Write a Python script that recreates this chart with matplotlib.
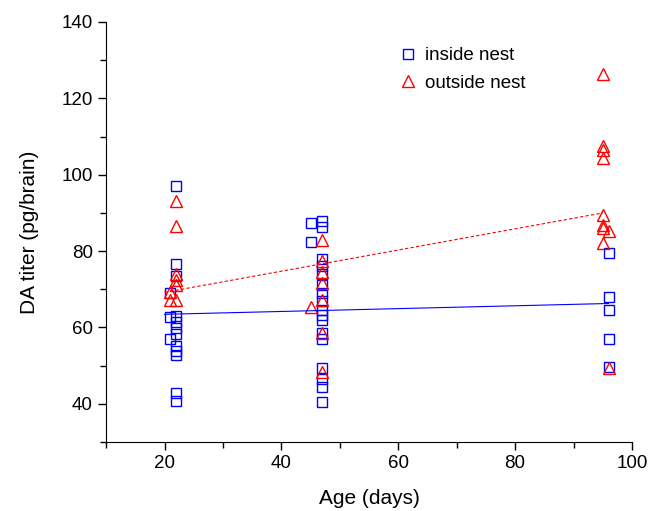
import numpy as np
import matplotlib.pyplot as plt

plt.rcParams['font.family'] = ['Liberation Sans', 'DejaVu Sans']

# inside nest (squares)
in_age = [22, 22, 22, 22, 22, 22, 22, 22, 22, 22, 22, 22, 21, 21, 21,
          45, 45,
          47, 47, 47, 47, 47, 47, 47, 47, 47, 47, 47, 47, 47, 47, 47, 47, 47,
          96, 96, 96, 96, 96]
in_da = [97.1, 76.6, 73.5, 63.0, 61.5, 59.9, 58.3, 55.2, 53.9, 52.8, 42.9, 40.8, 69.1, 62.8, 57.0,
         87.4, 82.4,
         87.9, 86.4, 78.0, 76.0, 74.0, 71.0, 69.0, 67.0, 64.5, 63.3, 62.0, 58.5, 57.0, 49.5, 46.5, 44.5, 40.5,
         79.5, 67.9, 64.5, 57.0, 49.7]

# outside nest (triangles)
out_age = [22, 22, 22, 22, 22, 21, 21, 22,
           45, 47, 47, 47, 47, 47, 47, 47,
           95, 95, 95, 95, 95, 95, 95, 96, 95, 96]
out_da = [93.1, 86.5, 74.0, 72.5, 71.2, 69.2, 67.2, 67.2,
          65.4, 82.9, 77.4, 74.6, 71.7, 67.2, 58.6, 48.4,
          126.3, 107.5, 106.5, 104.5, 89.5, 86.8, 86.0, 85.2, 82.0, 49.3]

fig = plt.figure(figsize=(6.59, 5.11), dpi=100)
ax = fig.add_axes([0.161, 0.135, 0.798, 0.822])

ax.plot(in_age, in_da, 's', mfc='none', mec='blue', ms=6.5, mew=1.0, label='inside nest')
ax.plot(out_age, out_da, '^', mfc='none', mec='red', ms=8.5, mew=1.0, label='outside nest')

# linear fits
p_in = np.polyfit(in_age, in_da, 1)
p_out = np.polyfit(out_age, out_da, 1)
xs_in = np.array([min(in_age) - 1, max(in_age)])
xs_out = np.array([min(out_age) - 1, max(out_age) - 1])
ax.plot(xs_in, np.polyval(p_in, xs_in), '-', color='blue', lw=0.8)
ax.plot(xs_out, np.polyval(p_out, xs_out), '--', color='red', lw=0.8, dashes=(3, 2))

ax.set_xlim(10, 100)
ax.set_ylim(30, 140)
ax.set_xticks([20, 40, 60, 80, 100])
ax.set_xticks([10, 30, 50, 70, 90], minor=True)
ax.set_yticks([40, 60, 80, 100, 120, 140])
ax.set_yticks([30, 50, 70, 90, 110, 130], minor=True)
ax.spines['top'].set_visible(False)
ax.spines['right'].set_visible(False)
ax.tick_params(which='major', direction='out', length=6, width=1, labelsize=13.5)
ax.tick_params(which='minor', direction='out', length=4, width=1)
ax.set_xlabel('Age (days)', fontsize=15, labelpad=12)
ax.set_ylabel('DA titer (pg/brain)', fontsize=15, labelpad=16)

ax.legend(loc='upper left', bbox_to_anchor=(0.52, 0.98), frameon=False, fontsize=13.5,
          handletextpad=0.35, labelspacing=0.55, handlelength=1.2)

fig.savefig('out.png', dpi=100)
